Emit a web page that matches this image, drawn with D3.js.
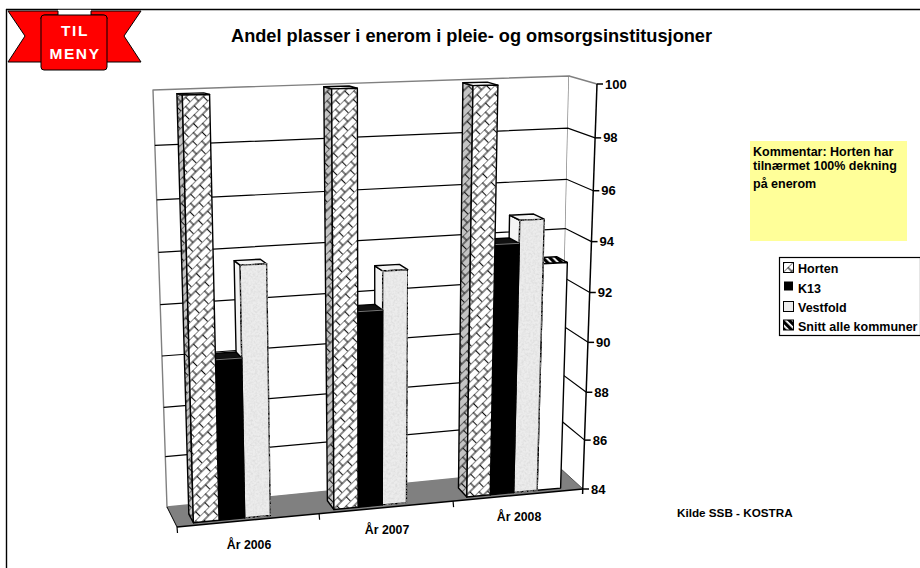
<!DOCTYPE html>
<html><head><meta charset="utf-8">
<script src="https://cdnjs.cloudflare.com/ajax/libs/d3/7.8.5/d3.min.js"></script>
<style>html,body{margin:0;padding:0;background:#fff;overflow:hidden}svg{display:block}text{font-family:"Liberation Sans",Arial,sans-serif;font-weight:bold;fill:#000}</style>
</head><body><svg id="c" width="920" height="568"></svg>
<script>
const categories = ["År 2006","År 2007","År 2008"];
const seriesNames = ["Horten","K13","Vestfold","Snitt alle kommuner"];
const horten = [99.9,100,100];
const k13 = [90.2,91.7,94];
const vestfold = [93.7,93.2,94.9];
const snitt = [null,null,93.15];
const tickValues = [84,86,88,90,92,94,96,98,100];
const tickFractions = [0,0.1207,0.2389,0.3621,0.4852,0.6108,0.7365,0.8670,1];
const titleText = "Andel plasser i enerom i pleie- og omsorgsinstitusjoner";
const commentLines = ["Kommentar: Horten har","tilnærmet 100% dekning","på enerom"];
const sourceText = "Kilde SSB - KOSTRA";

const svg = d3.select("#c");
const defs = svg.append("defs");
function brick(id, base){
  const p = defs.append("pattern").attr("id",id).attr("patternUnits","userSpaceOnUse")
    .attr("width",13).attr("height",12).attr("patternTransform","rotate(-45) translate(1 2)");
  p.append("rect").attr("width",13).attr("height",12).attr("fill",base);
  p.append("path").attr("d","M0 0H13M0 6H13M3 0V6M9.5 6V12").attr("stroke","#111").attr("stroke-width",1.1).attr("fill","none");
}
brick("brick","#fff"); brick("brickSide","#c4c4c4");
const hat = defs.append("pattern").attr("id","hatch").attr("patternUnits","userSpaceOnUse").attr("width",5).attr("height",5).attr("patternTransform","rotate(-45)");
hat.append("rect").attr("width",5).attr("height",5).attr("fill","#fff");
hat.append("rect").attr("width",3.2).attr("height",5).attr("fill","#000");
const f = defs.append("filter").attr("id","grain").attr("x",0).attr("y",0).attr("width",1).attr("height",1);
f.append("feTurbulence").attr("type","fractalNoise").attr("baseFrequency",0.45).attr("numOctaves",2).attr("seed",4).attr("result","n");
f.append("feColorMatrix").attr("in","n").attr("type","matrix").attr("values","0 0 0 0 0.62  0 0 0 0 0.62  0 0 0 0 0.62  1.1 0 0 0 -0.4").attr("result","s");
f.append("feComposite").attr("in","s").attr("in2","SourceGraphic").attr("operator","in").attr("result","c");
const m = f.append("feMerge"); m.append("feMergeNode").attr("in","SourceGraphic"); m.append("feMergeNode").attr("in","c");

const LBF=[177,527],RBF=[583,489],LBB=[167,507],RBB=[560,468],LTF=[165,93],RTF=[597,84],LTB=[153,90],RTB=[569,76];
const valueFrac = d3.scaleLinear().domain(tickValues).range(tickFractions);
const catU = d3.scaleLinear().domain([0,1,2,3]).range([0,0.35,0.68,1]);
const band = d3.scaleBand().domain(seriesNames).range([0.125,0.85]).paddingInner(0.0);
const mix=(a,b,t)=>[a[0]+(b[0]-a[0])*t,a[1]+(b[1]-a[1])*t];
function proj(u,v,w){
  const t=valueFrac(v);
  const bf=mix(LBF,RBF,u),bb=mix(LBB,RBB,u),tf=mix(LTF,RTF,u),tb=mix(LTB,RTB,u);
  return mix(mix(bf,bb,w),mix(tf,tb,w),t);
}
const line=d3.line();
const poly=(pts,fill,stroke,sw,extra)=>{const s=svg.append("path").attr("d",line(pts)+"Z").attr("fill",fill).attr("stroke",stroke||"none").attr("stroke-width",sw||1).attr("stroke-linejoin","round");if(extra)s.attr("filter",extra);return s;};
const seg=(a,b,c,w)=>svg.append("path").attr("d",line([a,b])).attr("stroke",c).attr("stroke-width",w).attr("fill","none");

seg([6,9.5],[920,9.5],"#000",1.4); seg([6.5,9],[6.5,568],"#000",1.4);

const vMin=84,vMax=100;
poly([proj(0,vMax,1),proj(1,vMax,1),proj(1,vMin,1),proj(0,vMin,1)],"#fff","#808080",1.4);
poly([proj(1,vMax,1),proj(1,vMax,0),proj(1,vMin,0),proj(1,vMin,1)],"#fff");
seg(proj(1,vMax,1),proj(1,vMax,0),"#808080",1.4);
poly([proj(0,vMin,0),proj(1,vMin,0),proj(1,vMin,1),proj(0,vMin,1)],"#808080");
seg(proj(0,vMin,0),proj(0,vMin,1),"#000",1);
seg(proj(1,vMin,0),proj(1,vMin,1),"#555",1);
tickValues.filter(v=>v>vMin&&v<vMax).forEach(v=>{
  svg.append("path").attr("d",line([proj(0,v,1),proj(1,v,1),proj(1,v,0)])).attr("fill","none").attr("stroke","#000").attr("stroke-width",1.2);
});

const W0=0.13,W1=0.56;
const seriesData=[horten,k13,vestfold,snitt];
const styles=[
 {front:"url(#brick)",side:"url(#brickSide)",top:"#eee",stroke:"#000"},
 {front:"#000",side:"#000",top:"#111",stroke:"#000",edge:"#777"},
 {front:"#ececec",side:"#f4f4f4",top:"#f4f4f4",stroke:"#000",grain:"url(#grain)"},
 {front:"#fff",side:"#fff",top:"url(#hatch)",stroke:"#000"}
];
categories.forEach((c,ci)=>{
  d3.range(seriesNames.length-1,-1,-1).forEach(si=>{
    const val=seriesData[si][ci]; if(val==null) return;
    const st=styles[si];
    const uAt=d=>{const a=catU(ci),b=catU(ci+1);return a+(b-a)*d;};
    const u0=uAt(band(seriesNames[si])),u1=uAt(band(seriesNames[si])+band.bandwidth());
    poly([proj(u0,vMin,W1),proj(u0,val,W1),proj(u0,val,W0),proj(u0,vMin,W0)],st.side,st.stroke,1.4);
    poly([proj(u0,val,W1),proj(u1,val,W1),proj(u1,val,W0),proj(u0,val,W0)],st.top,st.stroke,1.4);
    poly([proj(u0,val,W0),proj(u1,val,W0),proj(u1,vMin,W0),proj(u0,vMin,W0)],st.front,st.stroke,1.4,st.grain);
    if(st.edge) seg(proj(u0,val,W0),proj(u1,val,W0),st.edge,1);
  });
});

seg(proj(1,vMax,0),[582.6,494],"#000",1.5);
tickValues.forEach(v=>{
  const p=proj(1,v,0);
  seg(p,[p[0]+6,p[1]],"#000",1.5);
  svg.append("text").attr("x",p[0]+8).attr("y",p[1]+4.5).attr("font-size",13).text(v);
});
seg(proj(0,vMin,0),proj(1,vMin,0),"#000",1.5);
d3.range(0,categories.length).forEach(i=>{
  const p=proj(catU(i),vMin,0);
  seg(p,[p[0]+0.5,p[1]+6],"#000",1.2);
});
const catOff=[24.5,23,22];
categories.forEach((c,i)=>{
  const p=proj((catU(i)+catU(i+1))/2,vMin,0);
  svg.append("text").attr("x",p[0]+1).attr("y",p[1]+catOff[i]+4).attr("text-anchor","middle").attr("font-size",12.3).text(c);
});

svg.append("text").attr("x",231).attr("y",42).attr("font-size",18.2).text(titleText);
svg.append("text").attr("x",677).attr("y",517).attr("font-size",11.7).text(sourceText);

svg.append("rect").attr("x",750).attr("y",141).attr("width",157).attr("height",100).attr("fill","#ffff99");
[156,170,188].forEach((y,i)=>svg.append("text").attr("x",753).attr("y",y).attr("font-size",12.5).text(commentLines[i]));

svg.append("rect").attr("x",779.5).attr("y",257.5).attr("width",141).attr("height",78).attr("fill","#fff").attr("stroke","#000").attr("stroke-width",1.2);
const legY=[273,292.5,312,330.5], swY=[262.5,282,301.5,320], swFill=["url(#brick)","#000","#ececec","url(#hatch)"];
seriesNames.forEach((n,i)=>{
  const s=i==1?8:10;
  svg.append("rect").attr("x",i==1?784.5:783.5).attr("y",swY[i]).attr("width",s).attr("height",s).attr("fill",swFill[i]).attr("stroke","#000").attr("stroke-width",1);
  svg.append("text").attr("x",798).attr("y",legY[i]).attr("font-size",12.5).text(n);
});

const red="#ff0000";
poly([[8,11],[141,11],[124,36],[141,62],[8,62],[25,36]],red,"#000",1);
svg.append("rect").attr("x",58).attr("y",9.8).attr("width",33).attr("height",7).attr("fill","#fff");
seg([58,11],[58,17],"#000",1); seg([91,11],[91,17],"#000",1);
svg.append("path").attr("d","M41 19Q41 15 46 15H58M107 19Q107 15 102 15H91").attr("fill","none").attr("stroke","#000").attr("stroke-width",1);
svg.append("rect").attr("x",41).attr("y",15).attr("width",66).attr("height",55).attr("rx",3).attr("fill",red).attr("stroke","#000").attr("stroke-width",1);
[["TIL",35.5],["MENY",58.5]].forEach(d=>svg.append("text").attr("x",75).attr("y",d[1]).attr("text-anchor","middle").attr("font-size",15.5).attr("letter-spacing",1.6).style("fill","#fff").text(d[0]));
</script></body></html>
